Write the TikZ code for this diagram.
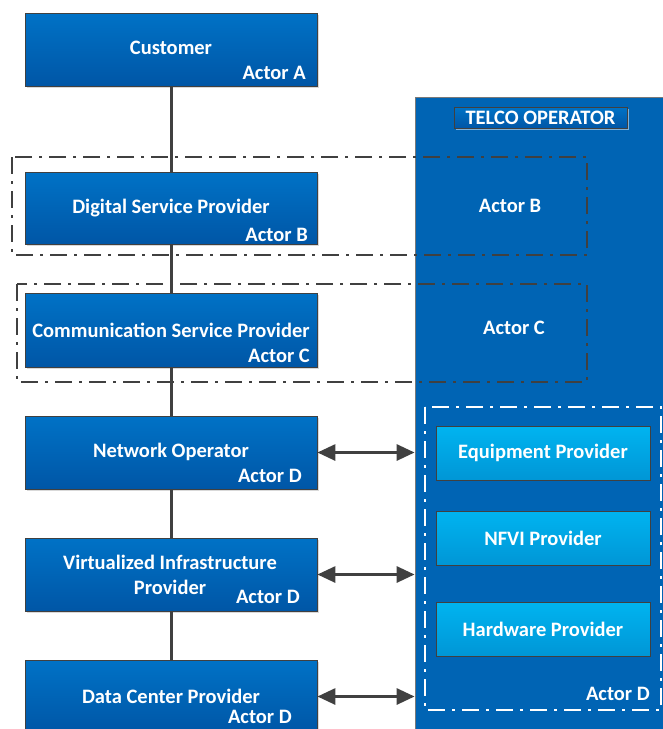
\documentclass[tikz,border=0pt]{standalone}
\usepackage{fontspec}
\setmainfont{Carlito}
\usetikzlibrary{arrows.meta,shadows}
\definecolor{bluetop}{RGB}{0,114,198}
\definecolor{bluebot}{RGB}{0,86,166}
\definecolor{telcoblue}{RGB}{0,100,180}
\definecolor{lighttop}{RGB}{0,180,240}
\definecolor{lightbot}{RGB}{0,150,214}
\definecolor{linegray}{RGB}{64,64,64}
\tikzset{
  x=1pt, y=-1pt,
  txt/.style={font=\fontsize{20.5}{24}\selectfont\bfseries, text=white, inner sep=0pt},
  darkbox/.style={draw=linegray, line width=0.8pt, top color=bluetop, bottom color=bluebot,
    minimum width=292pt, minimum height=73pt, inner sep=0pt,
    drop shadow={shadow xshift=2pt, shadow yshift=-2pt, fill=black!25, opacity=0.6}},
  lightbox/.style={draw=linegray, line width=0.8pt, top color=lighttop, bottom color=lightbot,
    minimum width=214pt, minimum height=54pt, inner sep=0pt, txt},
  telcobox/.style={draw=linegray!70, line width=0.8pt, fill=telcoblue,
    minimum width=260pt, minimum height=648pt, inner sep=0pt},
  labelbox/.style={draw=linegray, line width=0.8pt, top color=bluetop, bottom color=bluebot, minimum width=173pt,
    minimum height=21pt, inner sep=0pt, txt,
    drop shadow={shadow xshift=2pt, shadow yshift=-2pt, fill=white, opacity=0.5}},
  conn/.style={draw=linegray, line width=3pt},
  dblarrow/.style={draw=linegray, line width=3pt,
    {Triangle[length=18pt,width=16pt]}-{Triangle[length=18pt,width=16pt]}},
  dashdotbox/.style={line width=2pt, dash pattern=on 17pt off 7pt on 3pt off 7pt},
}
\begin{document}
\begin{tikzpicture}
\clip (0,0) rectangle (663,729);

% Telco operator background
\node[telcobox] (telco) at (545,421) {};
\node[labelbox] (telcolabel) at (540.5,117.5) {TELCO OPERATOR};

% Left column boxes
\node[darkbox] (cust) at (171,49.5) {};
\node[darkbox, minimum height=72pt] (dsp) at (171,208) {};
\node[darkbox, minimum height=74pt] (csp) at (171,330) {};
\node[darkbox] (no) at (171,452.5) {};
\node[darkbox] (vip) at (171,574.5) {};
\node[darkbox] (dcp) at (171,696.5) {};

% connectors
\draw[conn] (cust.south) -- (dsp.north);
\draw[conn] (dsp.south) -- (csp.north);
\draw[conn] (csp.south) -- (no.north);
\draw[conn] (no.south) -- (vip.north);
\draw[conn] (vip.south) -- (dcp.north);

% titles
\node[txt] (custt) at (171,48) {Customer};
\node[txt, anchor=east] (custa) at (306,73) {Actor A};
\node[txt] (dspt) at (171,208) {Digital Service Provider};
\node[txt, anchor=east] (dspa) at (308,235) {Actor B};
\node[txt] (cspt) at (171,330) {Communication Service Provider};
\node[txt, anchor=east] (cspa) at (310,356) {Actor C};
\node[txt] (not) at (171,452) {Network Operator};
\node[txt, anchor=east] (noa) at (302,476) {Actor D};
\node[txt] (vipt1) at (170,562) {Virtualized Infrastructure};
\node[txt] (vipt2) at (170,587) {Provider};
\node[txt, anchor=east] (vipa) at (300,597) {Actor D};
\node[txt] (dcpt) at (171,696) {Data Center Provider};
\node[txt, anchor=east] (dcpa) at (292,717) {Actor D};

% Dash-dot groups
\draw[dashdotbox, draw=linegray] (12,157) rectangle (587,255);
\node[txt] (actb) at (510,206) {Actor B};
\draw[dashdotbox, draw=linegray] (17,284) rectangle (587,382);
\node[txt] (actc) at (514,328) {Actor C};

% Actor D group
\draw[dashdotbox, draw=white] (425,407) rectangle (661,710);
\node[lightbox] (equip) at (543,453) {Equipment Provider};
\node[lightbox] (nfvi) at (543,538) {NFVI Provider};
\node[lightbox] (hw) at (543,629) {Hardware Provider};
\node[txt, anchor=east] (actd) at (650,694) {Actor D};

% arrows
\draw[dblarrow] (no.east) -- (no.east -| telco.west);
\draw[dblarrow] (vip.east) -- (vip.east -| telco.west);
\draw[dblarrow] (dcp.east) -- (dcp.east -| telco.west);
\end{tikzpicture}
\end{document}
